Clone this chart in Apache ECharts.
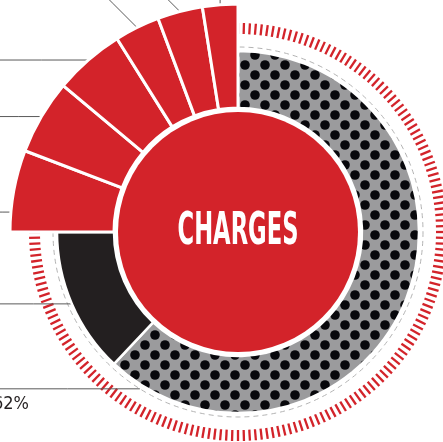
<!DOCTYPE html>
<html>
<head>
<meta charset="utf-8">
<title>Charges</title>
<style>
  html, body { margin: 0; padding: 0; background: #fff; }
  #chart { width: 443px; height: 442px; }
</style>
<script src="https://cdn.jsdelivr.net/npm/echarts@6/dist/echarts.min.js"></script>
</head>
<body>
<div id="chart"></div>
<script>
// ---- data (percent of total) ----
const ringNames = ['Remaining', 'Fixed charges'];
const ringValues = [62, 13];
const redNames = ['Charge A', 'Charge B', 'Charge C', 'Charge D', 'Charge E', 'Charge F'];
const redValues = [5.8, 5.3, 5.0, 3.2, 3.2, 2.5];
const centerTitle = 'CHARGES';

// ---- layout / style ----
const CX = 238, CY = 232;
const R_DISC = 120, R_IN = 124, R_RING = 181, R_RED = 228;
const RED = '#d3232a';
const DARK = '#231f20';
const NARROW = "'Liberation Sans Narrow', 'Noto Sans Condensed', 'DejaVu Sans Condensed', sans-serif";

// where the leader line leaves a slice (fraction of its sweep), default middle
const anchorFrac = { 'Remaining': 0.95, 'Charge A': 0.24 };
const anchorPad = { 'Remaining': 4 };
// right edge of the label text, most sit past the left border
const labelRight = { 'Remaining': 29 };

// dotted texture for the big grey slice
function dotPattern() {
  const c = document.createElement('canvas');
  c.width = c.height = 20;
  const g = c.getContext('2d');
  g.fillStyle = '#9b9b9d';
  g.fillRect(0, 0, 20, 20);
  g.fillStyle = '#08080c';
  [[5, 5], [15, 15]].forEach(function (p) {
    g.beginPath();
    g.arc(p[0], p[1], 4.8, 0, Math.PI * 2);
    g.fill();
  });
  return c;
}

// start/end angle (clockwise from 12 o'clock) of every slice
const total = ringValues.concat(redValues).reduce((a, b) => a + b, 0);
const segInfo = {};
let acc = 0;
ringNames.map((n, i) => [n, ringValues[i], R_RING])
  .concat(redNames.map((n, i) => [n, redValues[i], R_RED]))
  .forEach(function (s) {
    segInfo[s[0]] = { start: acc / total * 360, end: (acc + s[1]) / total * 360, outer: s[2] };
    acc += s[1];
  });

function pt(angle, r) {
  const a = angle * Math.PI / 180;
  return [CX + r * Math.sin(a), CY - r * Math.cos(a)];
}

function makeLayout(names) {
  return function (params) {
    const name = names[params.dataIndex];
    const seg = segInfo[name];
    if (!seg) return;
    const frac = anchorFrac[name] != null ? anchorFrac[name] : 0.5;
    const ang = seg.start + (seg.end - seg.start) * frac;
    const p0 = pt(ang, seg.outer + (anchorPad[name] || 0));
    if (ang > 350) {
      // last slice: straight up out of the picture
      return {
        x: p0[0], y: -20, align: 'center', verticalAlign: 'bottom',
        labelLinePoints: [p0, [p0[0], p0[1] - 10], [p0[0], -20]]
      };
    }
    if (ang > 330) {
      // top slices: 45 degree leader up and to the left
      const d = p0[1] + 20;
      return {
        x: p0[0] - d, y: -20, align: 'right', verticalAlign: 'bottom',
        labelLinePoints: [p0, [p0[0] - d / 2, p0[1] - d / 2], [p0[0] - d, -20]]
      };
    }
    const tx = labelRight[name] != null ? labelRight[name] : -6;
    return {
      x: tx, y: p0[1] + 7, align: 'right', verticalAlign: 'top',
      labelLinePoints: [p0, [(p0[0] - 5) / 2, p0[1]], [-5, p0[1]]]
    };
  };
}

const redSum = redValues.reduce((a, b) => a + b, 0);
const ringSum = ringValues.reduce((a, b) => a + b, 0);
const hidden = { itemStyle: { color: 'transparent', borderWidth: 0 }, label: { show: false }, labelLine: { show: false } };

const ringData = ringNames.map((n, i) => ({
  name: n, value: ringValues[i],
  itemStyle: { color: i === 0 ? { image: dotPattern(), repeat: 'repeat' } : DARK }
})).concat([Object.assign({ name: 'rest', value: redSum }, hidden)]);

const redData = [Object.assign({ name: 'rest', value: ringSum }, hidden)]
  .concat(redNames.map((n, i) => ({ name: n, value: redValues[i], itemStyle: { color: RED } })));

const pieLabel = {
  show: true,
  position: 'outside',
  formatter: p => Math.round(p.percent) + '%',
  fontFamily: NARROW,
  fontSize: 18,
  color: DARK
};
const pieLine = { show: true, length: 0, length2: 0, lineStyle: { color: '#5a5a5a', width: 1 } };

// squeeze the centre title to the condensed width of the original
const ctx = document.createElement('canvas').getContext('2d');
ctx.font = 'bold 44px ' + NARROW;
const titleScale = 121 / ctx.measureText(centerTitle).width;

const chart = echarts.init(document.getElementById('chart'), null, { renderer: 'canvas' });
chart.setOption({
  animation: false,
  backgroundColor: '#fff',
  polar: { center: [CX, CY], radius: 185 },
  angleAxis: {
    type: 'value', min: 0, max: 360, z: 0,
    axisLine: { lineStyle: { color: '#b4b4b4', width: 1, type: [5, 4] } },
    axisTick: { show: false }, axisLabel: { show: false }, splitLine: { show: false }
  },
  radiusAxis: { show: false, min: 0, max: 1 },
  graphic: [{
    type: 'text', x: CX, y: CY + 1, scaleX: titleScale, z: 100,
    style: {
      text: centerTitle, fill: '#fff', font: 'bold 44px ' + NARROW,
      align: 'center', verticalAlign: 'middle', textAlign: 'center', textVerticalAlign: 'middle'
    }
  }],
  series: [
    {
      // red tick ring around the grey and black part
      type: 'gauge', center: [CX, CY], radius: 209, startAngle: 90, endAngle: -180,
      min: 0, max: 270, splitNumber: 165, z: 1, silent: true,
      axisLine: { show: false, lineStyle: { width: 0 } },
      axisTick: { show: false }, axisLabel: { show: false },
      splitLine: { show: true, distance: 0, length: 11, lineStyle: { color: RED, width: 2.3 } },
      pointer: { show: false }, anchor: { show: false }, title: { show: false }, detail: { show: false },
      data: []
    },
    {
      type: 'pie', center: [CX, CY], radius: [0, R_DISC], z: 3, silent: true,
      label: { show: false }, labelLine: { show: false },
      itemStyle: { color: RED },
      data: [{ name: centerTitle, value: 1 }]
    },
    {
      type: 'pie', center: [CX, CY], radius: [R_IN, R_RING], startAngle: 90, clockwise: true,
      avoidLabelOverlap: false, z: 3, silent: true,
      itemStyle: { borderColor: '#fff', borderWidth: 2.5 },
      label: pieLabel, labelLine: pieLine,
      labelLayout: makeLayout(ringNames.concat(['rest'])),
      data: ringData
    },
    {
      type: 'pie', center: [CX, CY], radius: [R_IN, R_RED], startAngle: 90, clockwise: true,
      avoidLabelOverlap: false, z: 3, silent: true,
      itemStyle: { borderColor: '#fff', borderWidth: 3 },
      label: pieLabel, labelLine: pieLine,
      labelLayout: makeLayout(['rest'].concat(redNames)),
      data: redData
    }
  ]
});
</script>
</body>
</html>
